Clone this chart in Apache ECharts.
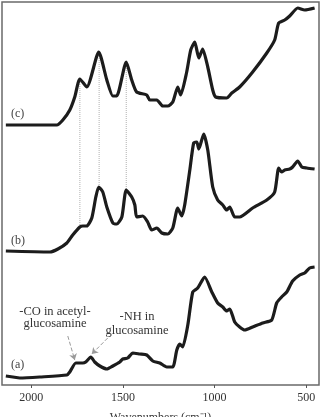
<!DOCTYPE html>
<html><head><meta charset="utf-8">
<script src="https://cdn.jsdelivr.net/npm/echarts@6/dist/echarts.min.js"></script>
<style>html,body{margin:0;padding:0;background:#fff}#c{width:324px;height:417px}</style>
</head><body><div id="c"></div>
<script>
// Spectrum (c)
const waveC = [2139,1861,1828,1790,1763,1735,1697,1632,1588,1555,1534,1482,1452,1425,1370,1354,1315,1283,1255,1228,1201,1185,1152,1130,1108,1086,1065,1037,1010,994,934,906,863,792,715,672,650,617,590,546,508,454];
const valC  = [260,260,265,275,288,306,298,333,305,289,289,323,305,293,290,285,285,279,279,283,298,290,313,335,343,327,336,318,295,288,287,292,298,313,332,345,362,365,369,377,375,377];
// Spectrum (b)
const waveB = [2139,1899,1855,1806,1774,1735,1719,1697,1670,1648,1632,1610,1588,1555,1534,1506,1482,1452,1435,1425,1392,1365,1343,1315,1288,1255,1228,1201,1179,1163,1135,1114,1097,1086,1059,1037,1010,983,955,934,917,890,863,792,715,672,650,634,617,590,574,546,524,497,454];
const valB  = [134,133,136,142,150,158,159,159,167,188,198,193,178,162,161,168,195,188,180,168,169,163,155,157,152,151,157,177,169,180,215,242,243,236,251,235,198,185,180,175,178,168,168,177,185,193,217,213,215,216,218,224,218,217,216];
// Spectrum (a)
const waveA = [2139,2101,2063,1954,1806,1790,1757,1719,1703,1675,1654,1626,1588,1555,1517,1501,1474,1446,1408,1370,1337,1299,1261,1228,1206,1190,1174,1146,1119,1092,1054,1015,983,955,934,917,890,863,835,792,737,688,661,634,606,574,535,508,481,454];
const valA  = [9,8,7,8,10,13,22,22,23,28,23,19,16,19,23,26,27,32,31,30,24,22,18,18,35,41,38,60,93,97,108,93,82,78,74,76,63,58,55,58,62,65,82,88,93,104,110,112,117,118];
// Guide lines between (c) and (b)
const guideWave = [1735,1630,1482];
const guideTop  = [305,333,323];
const guideBot  = [159,198,195];
// Annotation arrows [fromWave, fromVal, toWave, toVal]
const arrows = [[1801,49,1763,25],[1583,47,1670,31]];
// Tick labels
const tickValues = [500,1000,1500,2000];

const pairs = (w,v) => w.map((x,i)=>[x,v[i]]);
const curveStyle = {color:'#1c1c1c', width:3.2};
const serif = 'Liberation Serif';
const series = [
  {type:'line', data:pairs(waveC,valC), showSymbol:false, smooth:0.2, lineStyle:curveStyle, z:5},
  {type:'line', data:pairs(waveB,valB), showSymbol:false, smooth:0.2, lineStyle:curveStyle, z:5},
  {type:'line', data:pairs(waveA,valA), showSymbol:false, smooth:0.2, lineStyle:curveStyle, z:5},
  {type:'lines', coordinateSystem:'cartesian2d', silent:true, z:3,
   symbol:['none','arrow'], symbolSize:6,
   lineStyle:{color:'#9a9a9a', type:'dashed', width:1, opacity:1},
   data:arrows.map(a=>({coords:[[a[0],a[1]],[a[2],a[3]]]}))}
];
guideWave.forEach((w,i)=>{
  series.push({type:'line', data:[[w,guideTop[i]],[w,guideBot[i]]], showSymbol:false,
    lineStyle:{color:'#b0b0b0', width:1, type:'dotted'}, z:2, silent:true});
});

const chart = echarts.init(document.getElementById('c'));
chart.setOption({
  animation:false,
  grid:{left:2, right:5, top:2, bottom:32, show:true, borderColor:'#6a6a6a', borderWidth:1.5,
        containLabel:false, outerBoundsMode:'none'},
  xAxis:{type:'value', min:430, max:2160, inverse:true,
    axisLine:{show:false}, splitLine:{show:false},
    axisTick:{show:true, inside:false, length:3, lineStyle:{color:'#555'}, customValues:tickValues},
    axisLabel:{fontFamily:serif, fontSize:12, color:'#333', margin:7, customValues:tickValues, formatter:v=>String(v)},
    name:'Wavenumbers (cm⁻¹)', nameLocation:'middle', nameGap:27,
    nameTextStyle:{fontFamily:serif, fontSize:12, color:'#333'}},
  yAxis:{type:'value', min:0, max:383, show:false},
  series:series,
  graphic:[
    {type:'text', left:11, top:108, style:{text:'(c)', font:'12px "Liberation Serif"', fill:'#444'}},
    {type:'text', left:11, top:235, style:{text:'(b)', font:'12px "Liberation Serif"', fill:'#444'}},
    {type:'text', left:11, top:359, style:{text:'(a)', font:'12px "Liberation Serif"', fill:'#444'}},
    {type:'text', x:55, y:306, style:{text:'-CO in acetyl-\nglucosamine', font:'12.5px "Liberation Serif"', fill:'#333', align:'center', lineHeight:12}},
    {type:'text', x:137, y:310, style:{text:'-NH in\nglucosamine', font:'12.5px "Liberation Serif"', fill:'#333', align:'center', lineHeight:13.5}}
  ]
});
</script></body></html>
